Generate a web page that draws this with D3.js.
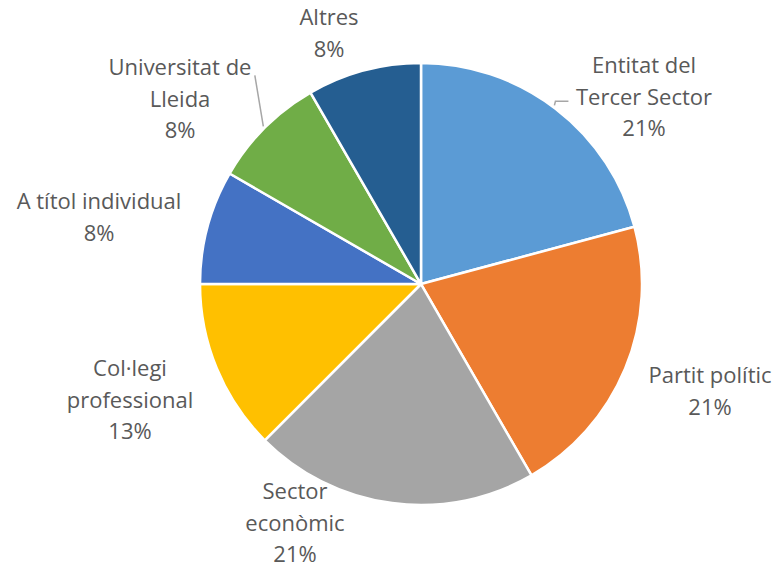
<!DOCTYPE html>
<html>
<head>
<meta charset="utf-8">
<script src="https://cdn.jsdelivr.net/npm/d3@7"></script>
<style>
  body { margin: 0; background: #fff; }
  .label { font-family: "Open Sans", sans-serif; font-size: 22px; fill: #595959; }
</style>
</head>
<body>
<div class="vis"></div>
<script>

//  DATA
var categories = ["Entitat del Tercer Sector", "Partit polític", "Sector econòmic",
	"Col·legi professional", "A títol individual", "Universitat de Lleida", "Altres"];
// responses per category (percentages shown are of the total)
var counts = [5, 5, 5, 3, 2, 2, 2];
// how Excel wrapped each label
var labelLines = [
	["Entitat del", "Tercer Sector"],
	["Partit polític"],
	["Sector", "econòmic"],
	["Col·legi", "professional"],
	["A títol individual"],
	["Universitat de", "Lleida"],
	["Altres"]
];
var colours = ["#5B9BD5", "#ED7D31", "#A5A5A5", "#FFC000", "#4472C4", "#70AD47", "#255E91"];


//  LAYOUT
var width = 778, height = 568;
var cx = 421, cy = 284, radius = 221;
var lineHeight = 31.5;

// label block position (centre x, first baseline) relative to the pie centre
var labelOffsets = [
	[223, -211], [289, 99], [-126, 215], [-291, 92], [-322, -75], [-241, -209], [-92, -259]
];

var svg = d3.select(".vis").append("svg")
	.attr("width", width)
	.attr("height", height);

var pieCanvas = svg.append("g")
	.attr("transform", "translate(" + cx + "," + cy + ")");

var total = d3.sum(counts);

var pie = d3.pie().sort(null).value(function(d) { return d; });
var arc = d3.arc().innerRadius(0).outerRadius(radius);
var arcs = pie(counts);

pieCanvas.selectAll("path.slice")
	.data(arcs)
	.enter().append("path")
	.attr("class", "slice")
	.attr("d", arc)
	.style("fill", function(d, i) { return colours[i]; })
	.style("stroke", "#fff")
	.style("stroke-width", 2.5)
	.style("stroke-linejoin", "round");

// leader lines (only two labels sit away from their slice)
var leader = d3.line();
var edge = function(i, frac, r) {
	// point on a slice at a fraction of its angle span
	var a = arcs[i].startAngle + (arcs[i].endAngle - arcs[i].startAngle) * frac;
	return [Math.sin(a) * r, -Math.cos(a) * r];
};
var p0 = edge(0, 0.49, radius + 2);
var p1 = edge(5, 0.5, radius + 2);
var leaders = [
	[p0, [p0[0] + 1, p0[1] - 4], [p0[0] + 14, p0[1] - 4]],
	[p1, [p1[0] - 8.5, p1[1] - 51]]
];
pieCanvas.selectAll("path.leader")
	.data(leaders)
	.enter().append("path")
	.attr("class", "leader")
	.attr("d", leader)
	.style("fill", "none")
	.style("stroke", "#A6A6A6")
	.style("stroke-width", 1.5);

// data labels
var labels = pieCanvas.selectAll("text.label")
	.data(arcs)
	.enter().append("text")
	.attr("class", "label")
	.attr("text-anchor", "middle")
	.attr("transform", function(d, i) {
		return "translate(" + labelOffsets[i][0] + "," + labelOffsets[i][1] + ")";
	});

labels.each(function(d, i) {
	var lines = labelLines[i].concat([Math.round(d.value / total * 100) + "%"]);
	d3.select(this).selectAll("tspan")
		.data(lines)
		.enter().append("tspan")
		.attr("x", 0)
		.attr("y", function(l, j) { return j * lineHeight; })
		.text(function(l) { return l; });
});

</script>
</body>
</html>
